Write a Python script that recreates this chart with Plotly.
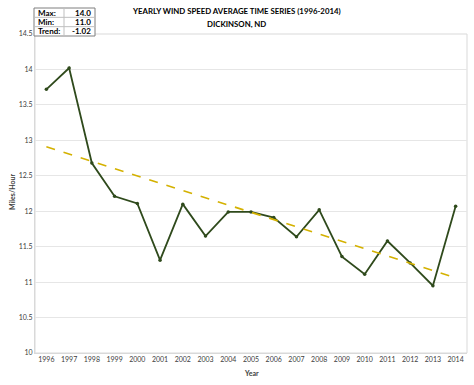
import plotly.graph_objects as go

years = [str(y) for y in range(1996, 2015)]
wind_speed = [13.72, 14.02, 12.68, 12.21, 12.11, 11.31, 12.10, 11.65, 11.99, 11.99,
              11.91, 11.64, 12.02, 11.36, 11.11, 11.58, 11.27, 10.95, 12.07]
trend_years = ["1996", "2014"]
trend_values = [12.91, 11.06]

table_labels = ["Max:", "Min:", "Trend:"]
table_values = ["14.0", "11.0", "-1.02"]

y_ticks = [10, 10.5, 11, 11.5, 12, 12.5, 13, 13.5, 14, 14.5]
y_tick_text = ["10", "10.5", "11", "11.5", "12", "12.5", "13", "13.5", "14", "14.5"]

FONT = "Lato"

fig = go.Figure()
fig.add_trace(go.Scatter(
    x=years, y=wind_speed, mode="lines+markers",
    line=dict(color="#2f4a1c", width=1.8),
    marker=dict(size=3.5, color="#2f4a1c"),
    showlegend=False))
fig.add_trace(go.Scatter(
    x=trend_years, y=trend_values, mode="lines",
    line=dict(color="#d4b100", width=1.6, dash="dash"),
    hoverinfo="skip", showlegend=False))

W, H = 474, 385
L, R, T, B = 35, 7, 34, 32
pw, ph = W - L - R, H - T - B

def px(x):
    return (x - L) / pw

def py(y):
    return 1 - (y - T) / ph

shapes = []
shapes.append(dict(type="rect", xref="paper", yref="paper", x0=0, x1=1, y0=0, y1=1,
                   line=dict(color="#d9d9d9", width=1), layer="below"))
tx0, tx1, tdiv = 34, 95, 64
ty0, ty1 = 8, 36
shapes.append(dict(type="rect", xref="paper", yref="paper",
                   x0=px(tx0), x1=px(tx1), y0=py(ty1), y1=py(ty0),
                   line=dict(color="#7f7f7f", width=1), fillcolor="white"))
shapes.append(dict(type="line", xref="paper", yref="paper",
                   x0=px(tdiv), x1=px(tdiv), y0=py(ty1), y1=py(ty0),
                   line=dict(color="#bfbfbf", width=1)))
rowh = (ty1 - ty0) / 3
for i in range(1, 3):
    yy = ty0 + i * rowh
    shapes.append(dict(type="line", xref="paper", yref="paper",
                       x0=px(tx0), x1=px(tx1), y0=py(yy), y1=py(yy),
                       line=dict(color="#bfbfbf", width=1)))

annotations = []
for i, (lab, val) in enumerate(zip(table_labels, table_values)):
    yc = ty0 + (i + 0.5) * rowh
    annotations.append(dict(xref="paper", yref="paper", x=px(tx0 + 2), y=py(yc),
                            text="<b>" + lab + "</b>", showarrow=False, xanchor="left",
                            yanchor="middle",
                            font=dict(family=FONT, size=8, color="#000000")))
    annotations.append(dict(xref="paper", yref="paper", x=px(tx1 - 2), y=py(yc),
                            text="<b>" + val + "</b>", showarrow=False, xanchor="right",
                            yanchor="middle",
                            font=dict(family=FONT, size=8, color="#000000")))

annotations.append(dict(xref="paper", yref="paper", x=px(236), y=py(11),
                        text="<b>YEARLY WIND SPEED AVERAGE TIME SERIES (1996-2014)</b>",
                        showarrow=False, xanchor="center", yanchor="middle",
                        font=dict(family=FONT, size=7.8, color="#000000")))
annotations.append(dict(xref="paper", yref="paper", x=px(236), y=py(24),
                        text="<b>DICKINSON, ND</b>",
                        showarrow=False, xanchor="center", yanchor="middle",
                        font=dict(family=FONT, size=7.8, color="#000000")))
annotations.append(dict(xref="paper", yref="paper", x=px(12), y=py(192),
                        text="<b>Miles/Hour</b>", textangle=-90, showarrow=False,
                        xanchor="center", yanchor="middle",
                        font=dict(family=FONT, size=7, color="#404040")))
annotations.append(dict(xref="paper", yref="paper", x=px(251), y=py(373),
                        text="<b>Year</b>", showarrow=False,
                        xanchor="center", yanchor="middle",
                        font=dict(family=FONT, size=7, color="#404040")))

fig.update_layout(
    width=W, height=H,
    margin=dict(l=L, r=R, t=T, b=B, autoexpand=False),
    paper_bgcolor="white", plot_bgcolor="white",
    font=dict(family=FONT, size=7, color="#404040"),
    shapes=shapes, annotations=annotations,
    xaxis=dict(type="category", categoryorder="array", categoryarray=years,
               range=[-0.5, 18.5], showgrid=False, automargin=False,
               showline=True, linecolor="#d9d9d9", ticks="",
               tickfont=dict(family=FONT, size=7, color="#404040")),
    yaxis=dict(range=[10, 14.5], tickvals=y_ticks, ticktext=y_tick_text,
               showgrid=True, gridcolor="#e6e6e6", gridwidth=1, automargin=False,
               showline=True, linecolor="#d9d9d9", zeroline=False, ticks="",
               tickfont=dict(family=FONT, size=7, color="#404040")),
)

fig.write_html("out.html",
               config={"displayModeBar": False},
               post_script="document.body.style.margin='0';document.body.style.overflow='hidden';")
